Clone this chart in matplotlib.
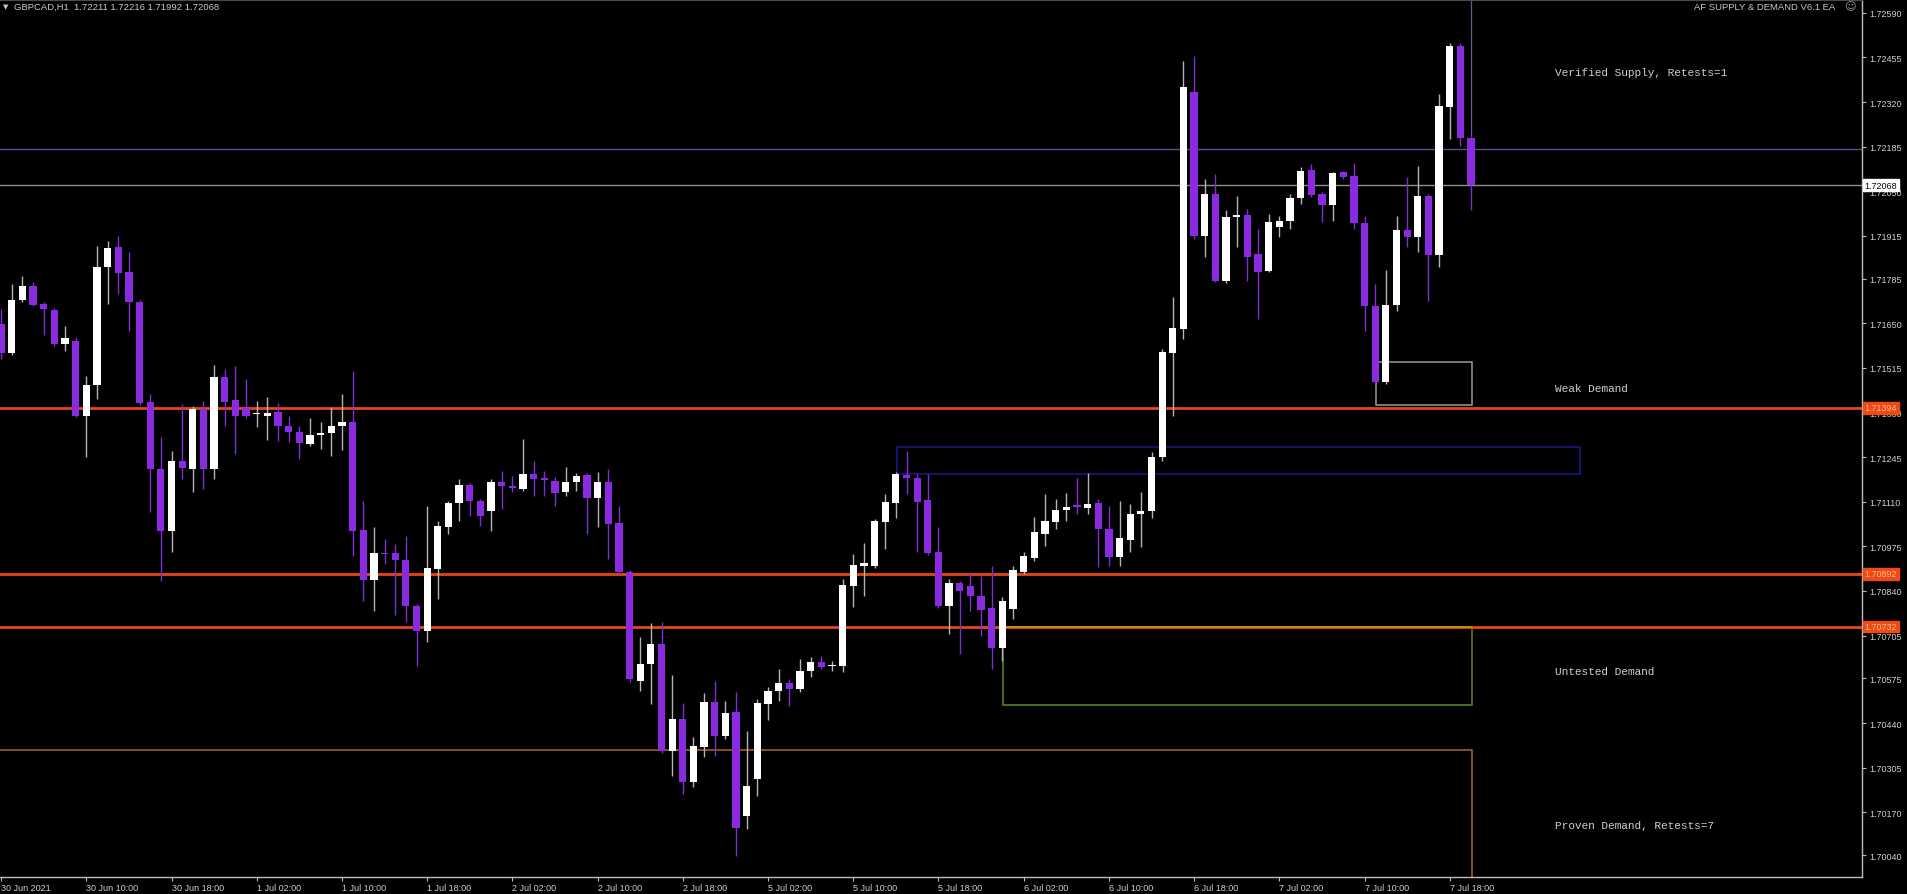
import matplotlib
matplotlib.use("Agg")
import matplotlib.pyplot as plt
from matplotlib.patches import Rectangle
import matplotlib.transforms as mtrans

# ---------------- data ----------------
header_text = "GBPCAD,H1  1.72211 1.72216 1.71992 1.72068"
ea_name = "AF SUPPLY & DEMAND V6.1 EA"

opens = [1.71648, 1.71560, 1.71721, 1.71763, 1.71709, 1.71691, 1.71588, 1.71597, 1.71370, 1.71464,
         1.71821, 1.71881, 1.71806, 1.71715, 1.71412, 1.71209, 1.71022, 1.71234, 1.71209, 1.71391,
         1.71209, 1.71488, 1.71418, 1.71394, 1.71376, 1.71370, 1.71382, 1.71339, 1.71321, 1.71285,
         1.71312, 1.71318, 1.71339, 1.71352, 1.71025, 1.70873, 1.70955, 1.70955, 1.70934, 1.70795,
         1.70719, 1.70907, 1.71034, 1.71106, 1.71161, 1.71112, 1.71082, 1.71170, 1.71158, 1.71149,
         1.71194, 1.71182, 1.71173, 1.71140, 1.71170, 1.71191, 1.71122, 1.71170, 1.71046, 1.70898,
         1.70568, 1.70619, 1.70680, 1.70356, 1.70453, 1.70262, 1.70368, 1.70504, 1.70401, 1.70474,
         1.70159, 1.70271, 1.70498, 1.70537, 1.70562, 1.70543, 1.70598, 1.70625, 1.70613, 1.70613,
         1.70855, 1.70916, 1.70916, 1.71049, 1.71106, 1.71191, 1.71182, 1.71115, 1.70958, 1.70795,
         1.70864, 1.70855, 1.70825, 1.70789, 1.70667, 1.70785, 1.70898, 1.70940, 1.71013, 1.71049,
         1.71085, 1.71100, 1.71091, 1.71106, 1.71028, 1.70943, 1.70994, 1.71073, 1.71082, 1.71246,
         1.71560, 1.71633, 1.72350, 1.71915, 1.72042, 1.71778, 1.71972, 1.71978, 1.71860, 1.71809,
         1.71942, 1.71960, 1.72030, 1.72114, 1.72042, 1.72008, 1.72108, 1.72096, 1.71954, 1.71703,
         1.71473, 1.71706, 1.71933, 1.71912, 1.72036, 1.71857, 1.72305, 1.72490, 1.72211]
highs = [1.71694, 1.71769, 1.71793, 1.71775, 1.71715, 1.71697, 1.71642, 1.71609, 1.71491, 1.71884,
         1.71899, 1.71915, 1.71866, 1.71721, 1.71436, 1.71306, 1.71264, 1.71406, 1.71400, 1.71415,
         1.71524, 1.71512, 1.71521, 1.71482, 1.71415, 1.71427, 1.71409, 1.71370, 1.71339, 1.71364,
         1.71352, 1.71397, 1.71436, 1.71506, 1.71112, 1.71034, 1.70997, 1.70982, 1.71007, 1.70801,
         1.71097, 1.71052, 1.71112, 1.71179, 1.71167, 1.71118, 1.71179, 1.71203, 1.71188, 1.71300,
         1.71234, 1.71203, 1.71185, 1.71215, 1.71197, 1.71197, 1.71200, 1.71209, 1.71097, 1.70904,
         1.70701, 1.70743, 1.70746, 1.70586, 1.70501, 1.70398, 1.70531, 1.70568, 1.70507, 1.70534,
         1.70416, 1.70513, 1.70549, 1.70604, 1.70574, 1.70634, 1.70640, 1.70643, 1.70628, 1.70876,
         1.70952, 1.70985, 1.71058, 1.71134, 1.71200, 1.71264, 1.71194, 1.71194, 1.71034, 1.70876,
         1.70870, 1.70898, 1.70885, 1.70916, 1.70822, 1.70916, 1.70958, 1.71064, 1.71134, 1.71118,
         1.71137, 1.71182, 1.71197, 1.71118, 1.71097, 1.71112, 1.71103, 1.71140, 1.71261, 1.71572,
         1.71730, 1.72444, 1.72459, 1.72087, 1.72102, 1.71993, 1.72036, 1.71996, 1.71936, 1.71981,
         1.71975, 1.72042, 1.72123, 1.72132, 1.72048, 1.72108, 1.72111, 1.72136, 1.71975, 1.71769,
         1.71812, 1.71975, 1.72093, 1.72126, 1.72042, 1.72344, 1.72499, 1.72499, 1.72216]
lows = [1.71542, 1.71554, 1.71715, 1.71703, 1.71615, 1.71582, 1.71566, 1.71367, 1.71246, 1.71421,
        1.71709, 1.71739, 1.71627, 1.71403, 1.71079, 1.70870, 1.70958, 1.71179, 1.71140, 1.71149,
        1.71179, 1.71339, 1.71255, 1.71364, 1.71336, 1.71297, 1.71294, 1.71291, 1.71240, 1.71279,
        1.71270, 1.71249, 1.71267, 1.70946, 1.70810, 1.70779, 1.70922, 1.70767, 1.70746, 1.70613,
        1.70686, 1.70816, 1.71013, 1.71052, 1.71067, 1.71037, 1.71022, 1.71088, 1.71140, 1.71143,
        1.71128, 1.71128, 1.71097, 1.71128, 1.71143, 1.71013, 1.71034, 1.70937, 1.70892, 1.70565,
        1.70537, 1.70498, 1.70350, 1.70280, 1.70226, 1.70247, 1.70338, 1.70341, 1.70392, 1.70038,
        1.70120, 1.70220, 1.70450, 1.70507, 1.70492, 1.70534, 1.70580, 1.70604, 1.70598, 1.70595,
        1.70792, 1.70825, 1.70910, 1.70967, 1.71061, 1.71134, 1.70958, 1.70949, 1.70789, 1.70710,
        1.70649, 1.70779, 1.70704, 1.70604, 1.70628, 1.70755, 1.70892, 1.70931, 1.70976, 1.71028,
        1.71052, 1.71073, 1.71073, 1.70913, 1.70916, 1.70916, 1.70958, 1.70973, 1.71061, 1.71234,
        1.71370, 1.71603, 1.71905, 1.71851, 1.71775, 1.71772, 1.71881, 1.71778, 1.71663, 1.71806,
        1.71912, 1.71936, 1.72011, 1.72033, 1.71957, 1.71960, 1.72087, 1.71936, 1.71627, 1.71467,
        1.71467, 1.71688, 1.71881, 1.71866, 1.71718, 1.71821, 1.72208, 1.72187, 1.71992]
closes = [1.71560, 1.71721, 1.71763, 1.71706, 1.71694, 1.71588, 1.71606, 1.71370, 1.71464, 1.71821,
          1.71878, 1.71803, 1.71715, 1.71409, 1.71209, 1.71022, 1.71234, 1.71212, 1.71391, 1.71209,
          1.71488, 1.71412, 1.71370, 1.71370, 1.71379, 1.71379, 1.71339, 1.71321, 1.71288, 1.71312,
          1.71318, 1.71339, 1.71352, 1.71022, 1.70873, 1.70955, 1.70952, 1.70934, 1.70795, 1.70719,
          1.70910, 1.71037, 1.71106, 1.71161, 1.71112, 1.71067, 1.71170, 1.71158, 1.71152, 1.71194,
          1.71179, 1.71176, 1.71137, 1.71170, 1.71188, 1.71122, 1.71170, 1.71043, 1.70898, 1.70574,
          1.70619, 1.70680, 1.70356, 1.70453, 1.70262, 1.70371, 1.70504, 1.70401, 1.70471, 1.70123,
          1.70250, 1.70501, 1.70537, 1.70562, 1.70543, 1.70598, 1.70625, 1.70610, 1.70614, 1.70858,
          1.70919, 1.70925, 1.71052, 1.71109, 1.71194, 1.71182, 1.71109, 1.70955, 1.70795, 1.70864,
          1.70840, 1.70825, 1.70782, 1.70667, 1.70810, 1.70904, 1.70946, 1.71019, 1.71052, 1.71085,
          1.71094, 1.71094, 1.71103, 1.71028, 1.70943, 1.71000, 1.71073, 1.71082, 1.71246, 1.71563,
          1.71636, 1.72366, 1.71915, 1.72042, 1.71778, 1.71972, 1.71978, 1.71851, 1.71806, 1.71957,
          1.71960, 1.72030, 1.72111, 1.72039, 1.72008, 1.72105, 1.72093, 1.71954, 1.71703, 1.71473,
          1.71706, 1.71933, 1.71912, 1.72036, 1.71857, 1.72308, 1.72490, 1.72211, 1.72068]

xtick_bars = [0, 8, 16, 24, 32, 40, 48, 56, 64, 72, 80, 88, 96, 104, 112, 120, 128, 136]
xtick_labels = ["30 Jun 2021", "30 Jun 10:00", "30 Jun 18:00", "1 Jul 02:00", "1 Jul 10:00",
                "1 Jul 18:00", "2 Jul 02:00", "2 Jul 10:00", "2 Jul 18:00", "5 Jul 02:00",
                "5 Jul 10:00", "5 Jul 18:00", "6 Jul 02:00", "6 Jul 10:00", "6 Jul 18:00",
                "7 Jul 02:00", "7 Jul 10:00", "7 Jul 18:00"]
ytick_values = [1.72590, 1.72455, 1.72320, 1.72185, 1.72050, 1.71915, 1.71785, 1.71650, 1.71515,
                1.71380, 1.71245, 1.71110, 1.70975, 1.70840, 1.70705, 1.70575, 1.70440, 1.70305,
                1.70170, 1.70040]
ytick_labels = ["%.5f" % v for v in ytick_values]

current_price = 1.72068
supply_line_price = 1.72178
orange_levels = [1.71394, 1.70892, 1.70732]

# rectangles: start bar, end bar, bottom, top
zone_starts = [129.1, 84.1, 94.1, -0.5]
zone_ends = [138.1, 148.2, 138.1, 138.1]
zone_bottoms = [1.71403, 1.71194, 1.70495, 1.69900]
zone_tops = [1.71533, 1.71276, 1.70732, 1.70359]
zone_edge_colors = ["#9a9a9a", "#1a1a8c", "#5f8a28", "#b0642a"]

zone_texts = ["Verified Supply, Retests=1", "Weak Demand", "Untested Demand", "Proven Demand, Retests=7"]
zone_text_prices = [1.72411, 1.71454, 1.70598, 1.70132]
zone_text_bar = 145.9

# ---------------- figure ----------------
W, H = 1908, 895
fig = plt.figure(figsize=(W / 100, H / 100), dpi=100, facecolor="black")
ax = fig.add_axes([0.0, 17 / H, 1862 / W, (878 - 1) / H])
ax.set_facecolor("black")

y_top = 1.72629
y_bot = 1.69974
ax.set_ylim(y_bot, y_top)
ax.set_xlim(-0.1, 174.7)

bull_col = "#ffffff"
bear_col = "#8a2be2"
bull_wick = "#b4b4b4"
bear_wick = "#7b2fd0"

# zones (drawn behind candles)
for s, e, b, t, c in zip(zone_starts, zone_ends, zone_bottoms, zone_tops, zone_edge_colors):
    ax.add_patch(Rectangle((s, b), e - s, t - b, fill=False, edgecolor=c, linewidth=1.1, zorder=1))
# golden top edge of untested demand zone
ax.hlines(zone_tops[2], zone_starts[2], zone_ends[2], color="#c8901e", lw=1.3, zorder=1.5)

# horizontal levels
ax.axhline(supply_line_price, color="#5e4a8e", lw=1.0, zorder=1)
ax.axhline(current_price, color="#8c8c8c", lw=1.0, zorder=1)
for lv in orange_levels:
    ax.axhline(lv, color="#e8441c", lw=2.0, zorder=1.2)

# candles
n = len(opens)
xs = list(range(n))
bw = 0.68
for i in xs:
    o, h, l, c = opens[i], highs[i], lows[i], closes[i]
    bull = c >= o
    wc = bull_wick if bull else bear_wick
    fc = bull_col if bull else bear_col
    ax.vlines(i, l, h, color=wc, lw=1.0, zorder=2)
    lo, hi = min(o, c), max(o, c)
    if hi - lo < 0.00004:
        mid = (hi + lo) / 2
        lo, hi = mid - 0.00002, mid + 0.00002
    ax.add_patch(Rectangle((i - bw / 2, lo), bw, hi - lo, facecolor=fc, edgecolor="none", zorder=3))

# thin vertical line above the last bar
ax.vlines(n - 1, highs[-1], y_top, color="#6e5a8c", lw=0.9, zorder=2)

# zone labels
for txt, p in zip(zone_texts, zone_text_prices):
    ax.text(zone_text_bar, p, txt, color="#cfcfcf", fontsize=8, family="Liberation Mono",
            va="center", ha="left", zorder=5)

# axes styling
ax.spines["left"].set_visible(False)
ax.spines["top"].set_color("#4a4a4a")
ax.spines["top"].set_linewidth(0.8)
for side in ["right", "bottom"]:
    ax.spines[side].set_color("#bdbdbd")
    ax.spines[side].set_linewidth(1.0)

ax.yaxis.tick_right()
ax.set_yticks(ytick_values)
ax.set_yticklabels(ytick_labels)
ax.tick_params(axis="y", which="both", direction="out", length=3, width=0.8, colors="#bdbdbd",
               labelcolor="#d0d0d0", labelsize=6.5, pad=2)
for lab in ax.get_yticklabels():
    lab.set_family("Liberation Sans")

ax.set_xticks(xtick_bars)
ax.set_xticklabels(xtick_labels, ha="left")
ax.tick_params(axis="x", which="both", direction="out", length=3, width=0.8, colors="#bdbdbd",
               labelcolor="#d0d0d0", labelsize=6.5, pad=1)
for lab in ax.get_xticklabels():
    lab.set_family("Liberation Sans")

# price boxes on the right axis
trans = mtrans.blended_transform_factory(ax.transAxes, ax.transData)
for lv in orange_levels:
    ax.text(1.0015, lv, "%.5f" % lv, transform=trans, fontsize=6.5, family="Liberation Sans",
            color="#ffb490", va="center", ha="left", zorder=6, clip_on=False,
            bbox=dict(boxstyle="square,pad=0.15", facecolor="#ee4a14", edgecolor="#ee4a14"))
ax.text(1.0015, current_price, "%.5f" % current_price, transform=trans, fontsize=6.5,
        family="Liberation Sans", color="black", va="center", ha="left", zorder=6, clip_on=False,
        bbox=dict(boxstyle="square,pad=0.15", facecolor="white", edgecolor="white"))

# header texts
fig.text(3 / W, 1 - 7 / H, "\u25BC", fontsize=5, color="#c8c8c8", va="center", ha="left",
         family="DejaVu Sans")
fig.text(14 / W, 1 - 7 / H, header_text, fontsize=6.8, color="#c8c8c8", va="center", ha="left",
         family="Liberation Sans")
fig.text(1835 / W, 1 - 7 / H, ea_name, fontsize=6.8, color="#c8c8c8", va="center", ha="right",
         family="Liberation Sans")
fig.text(1850 / W, 1 - 7 / H, "\u263A", fontsize=8, color="#a0a0a0", va="center", ha="center",
         family="DejaVu Sans")

fig.savefig("out.png", dpi=100, facecolor="black")
